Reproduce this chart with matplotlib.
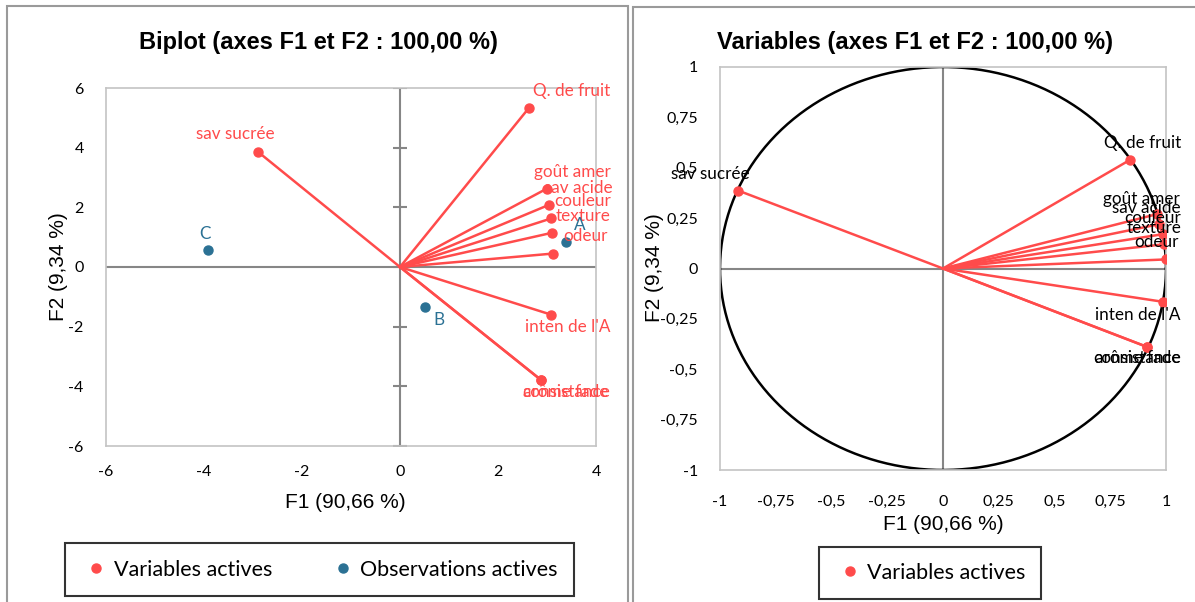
import matplotlib
matplotlib.use('Agg')
import matplotlib.pyplot as plt
from matplotlib.lines import Line2D
from matplotlib.patches import Rectangle
from matplotlib.ticker import FuncFormatter
import numpy as np

# variables (biplot coordinates)
var_names = ['Q. de fruit', 'goût amer', 'sav acide', 'couleur', 'texture', 'odeur',
             "inten de l'A", 'consistance', 'arôme fade', 'sav sucrée']
var_f1 = [2.63, 3.00, 3.05, 3.09, 3.11, 3.12, 3.09, 2.88, 2.88, -2.89]
var_f2 = [5.33, 2.63, 2.09, 1.63, 1.15, 0.45, -1.60, -3.79, -3.79, 3.85]

# observations
obs_names = ['A', 'B', 'C']
obs_f1 = [3.39, 0.51, -3.92]
obs_f2 = [0.84, -1.34, 0.56]

# correlations (circle)
cor_f1 = [0.84, 0.96, 0.97, 0.985, 0.99, 0.999, 0.985, 0.917, 0.917, -0.919]
cor_f2 = [0.54, 0.27, 0.22, 0.17, 0.12, 0.045, -0.165, -0.39, -0.39, 0.387]

left_ticks = [-6, -4, -2, 0, 2, 4, 6]
right_ticks = [-1, -0.75, -0.5, -0.25, 0, 0.25, 0.5, 0.75, 1]

RED = '#ff4b4b'
BLUE = '#2b7194'
GRID = '#868686'
FRAME = '#c4c4c4'
LBL = 'Lato'
ARIAL = 'Liberation Sans'

# label offsets in pixels (layout only)
left_off = [(43, 17), (25, 17), (29, 17), (31, 17), (31, 17), (33, 18),
            (16, -12), (25, -12), (25, -12), (-23, 18)]
obs_off = [(14, 17), (14, -13), (-3, 16)]
right_off = [(12, 17), (-16, 15), (-13, 16), (-10, 16), (-10, 16), (-9, 17),
             (-25, -13), (-10, -11), (-10, -11), (-28, 17)]

fmt = FuncFormatter(lambda v, p: ('%g' % v).replace('.', ','))

fig = plt.figure(figsize=(11.95, 6.02), dpi=100)

# panel borders
fig.patches.append(Rectangle((7 / 1195, -0.05), 621 / 1195, 1.05 - 6 / 602,
                             transform=fig.transFigure, fill=False, ec='#9a9a9a', lw=1.5))
fig.patches.append(Rectangle((633 / 1195, -0.05), 600 / 1195, 1.05 - 7 / 602,
                             transform=fig.transFigure, fill=False, ec='#9a9a9a', lw=1.5))


def style_axes(ax, ticks, lim):
    ax.set_xlim(lim)
    ax.set_ylim(lim)
    ax.set_xticks(ticks)
    ax.set_yticks(ticks)
    ax.xaxis.set_major_formatter(fmt)
    ax.yaxis.set_major_formatter(fmt)
    ax.tick_params(length=0, labelsize=11.5, colors='black')
    for lab in ax.get_xticklabels() + ax.get_yticklabels():
        lab.set_fontfamily(LBL)
    for s in ax.spines.values():
        s.set_color(FRAME)
        s.set_linewidth(1.2)
    ax.axhline(0, color=GRID, lw=1.5, zorder=1)
    ax.axvline(0, color=GRID, lw=1.5, zorder=1)


# ---- left: biplot
ax1 = fig.add_axes([106 / 1195, 156 / 602, 490 / 1195, 358 / 602])
style_axes(ax1, left_ticks, (-6, 6))
ax1.set_xlim(-6, 4)
ax1.set_xticks(left_ticks[:-1])
ax1.tick_params(axis='x', pad=14)
ax1.tick_params(axis='y', pad=16)
ax1.plot([0] * len(left_ticks), left_ticks, ls='none', marker='_', ms=10, mew=1.5,
         color=GRID, zorder=1)
for x, y in zip(var_f1, var_f2):
    ax1.plot([0, x], [0, y], color=RED, lw=1.8, zorder=2)
ax1.plot(var_f1, var_f2, 'o', color=RED, ms=6.5, zorder=3)
ax1.plot(obs_f1, obs_f2, 'o', color=BLUE, ms=6.5, zorder=3)
for name, x, y, off in zip(var_names, var_f1, var_f2, left_off):
    ax1.annotate(name, (x, y), xytext=off, textcoords='offset pixels', ha='center',
                 va='center', color=RED, fontsize=12.3, family=LBL, annotation_clip=False)
for name, x, y, off in zip(obs_names, obs_f1, obs_f2, obs_off):
    ax1.annotate(name, (x, y), xytext=off, textcoords='offset pixels', ha='center',
                 va='center', color=BLUE, fontsize=12.3, family=LBL, annotation_clip=False)

fig.text(318 / 1195, 1 - 42 / 602, 'Biplot (axes F1 et F2 : 100,00 %)', ha='center',
         va='center', fontsize=17, fontweight='bold', family=ARIAL)
fig.text(345 / 1195, 1 - 502 / 602, 'F1 (90,66 %)', ha='center', va='center',
         fontsize=15, family=ARIAL)
fig.text(58 / 1195, 1 - 267 / 602, 'F2 (9,34 %)', ha='center', va='center',
         fontsize=15, family=ARIAL, rotation=90)

leg1 = fig.legend(handles=[Line2D([], [], ls='none', marker='o', color=RED, ms=6.5),
                           Line2D([], [], ls='none', marker='o', color=BLUE, ms=6.5)],
                  labels=['Variables actives', 'Observations actives'], ncol=2,
                  loc='center', bbox_to_anchor=(319.5 / 1195, 1 - 569.5 / 602),
                  prop={'family': LBL, 'size': 15.5}, fancybox=False,
                  handletextpad=0.1, columnspacing=2.6, borderpad=0.75, handlelength=1.4)
leg1.get_frame().set_edgecolor('black')
leg1.get_frame().set_linewidth(1.5)

# ---- right: correlation circle
ax2 = fig.add_axes([720 / 1195, 132 / 602, 446 / 1195, 403 / 602])
style_axes(ax2, right_ticks, (-1, 1))
ax2.tick_params(axis='x', pad=18)
ax2.tick_params(axis='y', pad=16)
t = np.linspace(0, 2 * np.pi, 500)
ax2.plot(np.cos(t), np.sin(t), color='black', lw=1.8, zorder=2)
for x, y in zip(cor_f1, cor_f2):
    ax2.plot([0, x], [0, y], color=RED, lw=1.8, zorder=2)
ax2.plot(cor_f1, cor_f2, 'o', color=RED, ms=6.5, zorder=3)
for name, x, y, off in zip(var_names, cor_f1, cor_f2, right_off):
    ax2.annotate(name, (x, y), xytext=off, textcoords='offset pixels', ha='center',
                 va='center', color='black', fontsize=12.3, family=LBL, annotation_clip=False)

fig.text(915 / 1195, 1 - 42 / 602, 'Variables (axes F1 et F2 : 100,00 %)', ha='center',
         va='center', fontsize=17, fontweight='bold', family=ARIAL)
fig.text(943 / 1195, 1 - 524 / 602, 'F1 (90,66 %)', ha='center', va='center',
         fontsize=15, family=ARIAL)
fig.text(655 / 1195, 1 - 268 / 602, 'F2 (9,34 %)', ha='center', va='center',
         fontsize=15, family=ARIAL, rotation=90)

leg2 = fig.legend(handles=[Line2D([], [], ls='none', marker='o', color=RED, ms=6.5)],
                  labels=['Variables actives'], loc='center',
                  bbox_to_anchor=(930 / 1195, 1 - 573 / 602),
                  prop={'family': LBL, 'size': 15.5}, fancybox=False,
                  handletextpad=0.1, borderpad=0.75, handlelength=1.4)
leg2.get_frame().set_edgecolor('black')
leg2.get_frame().set_linewidth(1.5)

fig.savefig('out.png', dpi=100)
